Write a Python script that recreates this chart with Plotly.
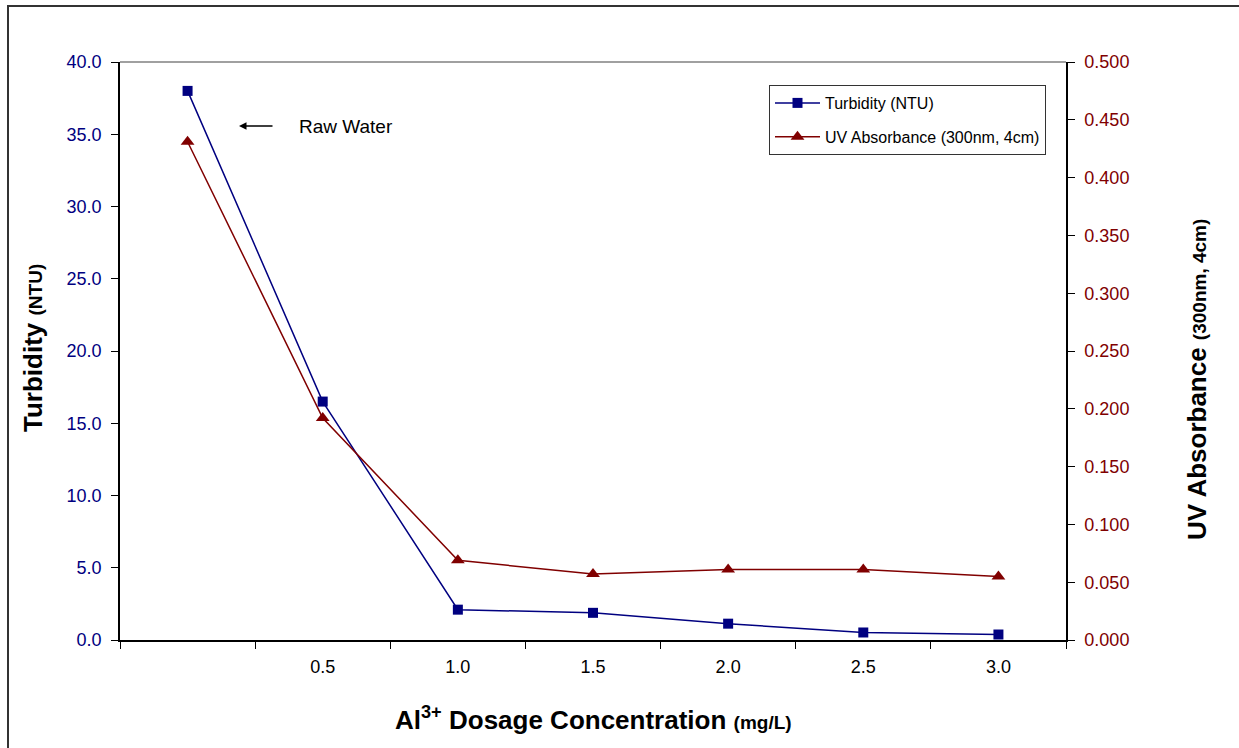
import plotly.graph_objects as go

categories = [" ", "0.5", "1.0", "1.5", "2.0", "2.5", "3.0"]
turbidity = [38.0, 16.5, 2.1, 1.88, 1.13, 0.52, 0.38]
uv_abs = [0.431, 0.192, 0.069, 0.057, 0.061, 0.061, 0.055]

NAVY = "#000080"
MAROON = "#800000"
FONT = "Liberation Sans, Arial, sans-serif"

fig = go.Figure()
fig.add_trace(go.Scatter(
    x=categories, y=turbidity, name="Turbidity (NTU)", mode="lines+markers",
    line=dict(color=NAVY, width=1.5),
    marker=dict(symbol="square", size=10, color=NAVY),
    yaxis="y", legendgroup="a"))
fig.add_trace(go.Scatter(
    x=categories, y=uv_abs, name="UV Absorbance (300nm, 4cm)", mode="lines+markers",
    line=dict(color=MAROON, width=1.5),
    marker=dict(symbol="triangle-up", size=12, color=MAROON),
    yaxis="y2", legendgroup="b"))

L, R, T, B = 120, 173, 62, 108
W, H = 1239, 748
pw, ph = W - L - R, H - T - B

def px(x):
    return (x - L) / pw

def py(y):
    return (H - B - y) / ph

fig.update_layout(
    width=W, height=H,
    margin=dict(l=L, r=R, t=T, b=B),
    paper_bgcolor="white", plot_bgcolor="white",
    font=dict(family=FONT, size=18, color="black"),
    showlegend=True,
    legend=dict(x=px(769), y=py(85), xanchor="left", yanchor="top",
                bordercolor="#333333", borderwidth=1, bgcolor="white",
                font=dict(size=16, color="black"), tracegroupgap=10,
                traceorder="grouped", itemwidth=45),
    xaxis=dict(type="category", range=[-0.5, 6.5], tickson="boundaries",
               ticks="outside", ticklen=7, tickcolor="black",
               showline=True, linecolor="black", linewidth=1.5,
               showgrid=False, zeroline=False,
               tickfont=dict(size=18, color="black"), ticklabelstandoff=10),
    yaxis=dict(range=[0, 40], dtick=5, tickformat=".1f",
               ticks="outside", ticklen=7, tickcolor="black",
               showline=True, linecolor="black", linewidth=1.5,
               showgrid=False, zeroline=False,
               tickfont=dict(size=18, color=NAVY), ticklabelstandoff=6),
    yaxis2=dict(range=[0, 0.5], dtick=0.05, tickformat=".3f",
                overlaying="y", side="right",
                ticks="outside", ticklen=7, tickcolor="black",
                showline=True, linecolor="black", linewidth=1.5,
                showgrid=False, zeroline=False,
                tickfont=dict(size=18, color=MAROON), ticklabelstandoff=6),
    shapes=[
        dict(type="line", xref="paper", yref="paper", x0=0, x1=1, y0=1, y1=1,
             line=dict(color="#808080", width=1.5)),
        dict(type="rect", xref="paper", yref="paper",
             x0=px(8), x1=px(1300), y0=py(800), y1=py(6),
             line=dict(color="#333333", width=2), fillcolor="rgba(0,0,0,0)",
             layer="below"),
    ],
    annotations=[
        dict(xref="paper", yref="paper", x=px(33), y=py(348), textangle=-90,
             showarrow=False, xanchor="center", yanchor="middle",
             text="<b>Turbidity <span style='font-size:19px'>(NTU)</span></b>",
             font=dict(size=26, color="black")),
        dict(xref="paper", yref="paper", x=px(1197), y=py(380), textangle=-90,
             showarrow=False, xanchor="center", yanchor="middle",
             text="<b>UV Absorbance <span style='font-size:19px'>(300nm, 4cm)</span></b>",
             font=dict(size=26, color="black")),
        dict(xref="paper", yref="paper", x=px(593), y=py(718),
             showarrow=False, xanchor="center", yanchor="middle",
             text="<b>Al<sup>3+</sup> Dosage Concentration <span style='font-size:19px'>(mg/L)</span></b>",
             font=dict(size=26, color="black")),
        dict(xref="paper", yref="paper", x=px(239), y=py(126),
             ax=35, ay=0, axref="pixel", ayref="pixel",
             showarrow=True, arrowhead=2, arrowsize=1, arrowwidth=1.5,
             arrowcolor="black", text=""),
        dict(xref="paper", yref="paper", x=px(297), y=py(126),
             showarrow=False, xanchor="left", yanchor="middle",
             text="Raw Water", font=dict(size=19, color="black")),
    ],
)

fig.write_html("out.html")
